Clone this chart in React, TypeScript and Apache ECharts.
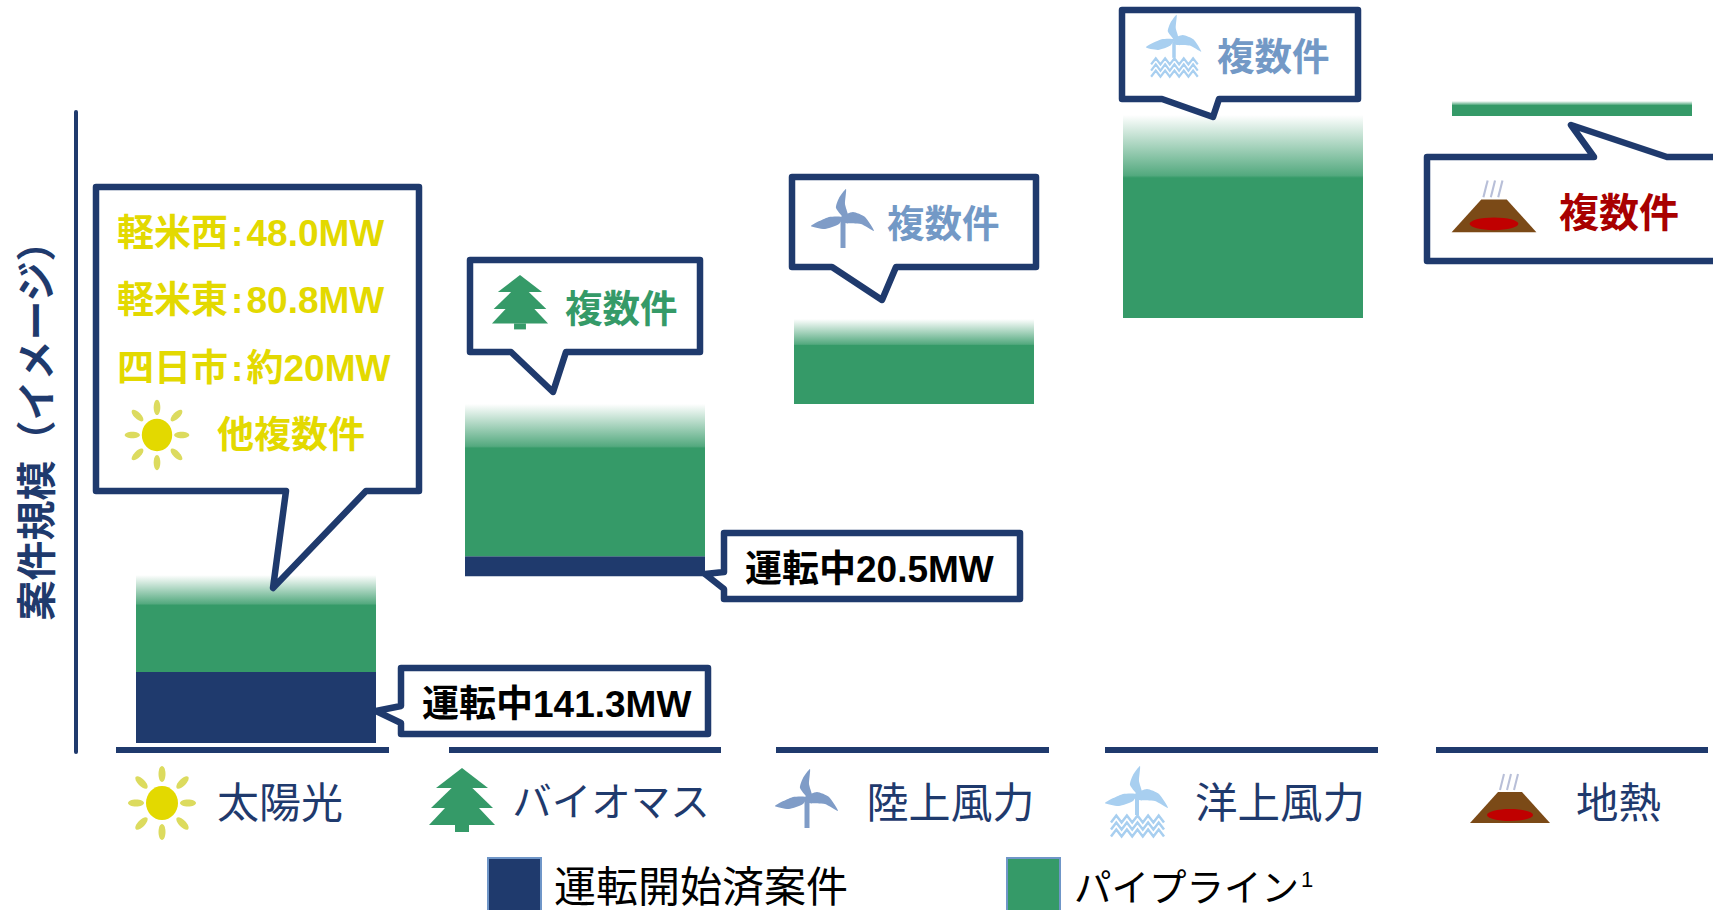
import React, { useEffect, useRef } from "react";
import * as echarts from "echarts";

const categories = ["太陽光", "バイオマス", "陸上風力", "洋上風力", "地熱"];
const legendOperating = "運転開始済案件";
const legendPipeline = "パイプライン";

// The axis is illustrative (イメージ): each group carries its own hidden scale.
const solarOperating = [141.3, null, null, null, null];
const solarPipeline = [193, null, null, null, null];
const biomassOffset = [null, 171, null, null, null];
const biomassOperating = [null, 20.5, null, null, null];
const biomassPipeline = [null, 156, null, null, null];
const windOffset = [null, null, 339, 425, 627];
const windPipeline = [null, null, 85, 203, 15];
const solarAxisMax = 1278;
const biomassAxisMax = 658;
const windAxisMax = 642;

const NAVY = "#1F3A6D";
const GREEN = "#359A68";
const YELLOW = "#E3D900";
const SKY = "#7399C6";
const RED = "#A80000";
const FONT = '"Liberation Sans","Noto Sans CJK JP",sans-serif';

// Share of each pipeline bar that fades out towards its top edge.
const fadeShare = [0.31, 0.29, 0.31, 0.31, 0.27];

const fade = (share: number) =>
  new echarts.graphic.LinearGradient(0, 0, 0, 1, [
    { offset: 0, color: "rgba(53,154,104,0)" },
    { offset: share * 0.96, color: "rgba(53,154,104,0.85)" },
    { offset: share, color: GREEN },
    { offset: 1, color: GREEN },
  ]);

const pipelineData = (values: (number | null)[]) =>
  values.map((value, i) =>
    value === null ? null : { value, itemStyle: { color: fade(fadeShare[i]) } }
  );

const bar = (
  name: string,
  axis: number,
  stack: string,
  data: any[],
  color: string | null
) => ({
  type: "bar",
  name,
  data,
  stack,
  xAxisIndex: axis,
  yAxisIndex: axis,
  barWidth: 240,
  clip: false,
  silent: true,
  itemStyle: color ? { color } : { color: "rgba(0,0,0,0)" },
});

const Z = 10;

const callout = (points: number[][]) => ({
  type: "polygon",
  z: Z,
  shape: { points },
  style: { fill: "#fff", stroke: NAVY, lineWidth: 6.5, lineJoin: "round" },
});

const label = (
  text: string,
  x: number,
  y: number,
  fill: string,
  size = 37.5,
  align = "left"
) => ({
  type: "text",
  z: Z + 1,
  style: {
    text,
    x,
    y,
    fill,
    align,
    verticalAlign: "middle",
    font: `bold ${size}px ${FONT}`,
  },
});

const sun = (x: number, y: number, s = 1) => ({
  type: "group",
  x,
  y,
  scaleX: s,
  scaleY: s,
  z: Z + 1,
  children: [
    ...[0, 45, 90, 135, 180, 225, 270, 315].map((deg) => {
      const r = ((deg * Math.PI) / 180) as number;
      const reach = deg % 180 === 0 ? 26 : 29;
      return {
        type: "ellipse",
        z: Z + 1,
        x: Math.cos(r) * reach,
        y: Math.sin(r) * reach,
        rotation: -r,
        shape: { cx: 0, cy: 0, rx: 8, ry: 3.5 },
        style: { fill: "#DCDB5E" },
      };
    }),
    {
      type: "ellipse",
      z: Z + 2,
      shape: { cx: 0, cy: 0, rx: 16, ry: 17 },
      style: { fill: YELLOW },
    },
  ],
});

const tree = (x: number, y: number, s = 1) => ({
  type: "group",
  x,
  y,
  scaleX: s,
  scaleY: s,
  z: Z + 1,
  children: [
    [[-7, 57], [7, 57], [7, 64], [-7, 64]],
    [[0, 22], [33, 57], [-33, 57]],
    [[0, 10], [31, 40], [-31, 40]],
    [[0, 0], [26, 20], [-26, 20]],
  ].map((points) => ({
    type: "polygon",
    z: Z + 1,
    shape: { points },
    style: { fill: GREEN },
  })),
});

const blades = (fill: string) =>
  [
    [[3, 0], [-7, -12], [-4, -22], [3, -31], [2, -16], [5, -5]],
    [[0, -3], [-14, -3], [-32, 6], [-18, 9], [-4, 4]],
    [[-2, -3], [10, -8], [22, -3], [31, 11], [18, 4], [2, 3]],
  ].map((points) => ({
    type: "polygon",
    z: Z + 1,
    shape: { points, smooth: 0.2 },
    style: { fill },
  }));

const turbine = (x: number, y: number, s = 1) => ({
  type: "group",
  x,
  y,
  scaleX: s,
  scaleY: s,
  z: Z + 1,
  children: [
    {
      type: "rect",
      z: Z + 1,
      shape: { x: -2.5, y: 0, width: 5, height: 28 },
      style: { fill: "#7F9CC7" },
    },
    ...blades("#7F9CC7"),
  ],
});

const waveRow = (row: number) =>
  Array.from({ length: 11 }, (_, i) => [-26 + i * 5.3, 22 + row * 7 + (i % 2 ? -3.5 : 3.5)]);

const offshore = (x: number, y: number, s = 1) => ({
  type: "group",
  x,
  y,
  scaleX: s,
  scaleY: s,
  z: Z + 1,
  children: [
    {
      type: "rect",
      z: Z + 1,
      shape: { x: -2, y: 0, width: 4, height: 18 },
      style: { fill: "#A8CFF0" },
    },
    ...blades("#A8CFF0"),
    ...[0, 1, 2].map((row) => ({
      type: "polyline",
      z: Z + 1,
      shape: { points: waveRow(row) },
      style: { stroke: "#A8CFF0", lineWidth: 2.5, fill: "none" },
    })),
  ],
});

const volcano = (x: number, y: number, s = 1) => ({
  type: "group",
  x,
  y,
  scaleX: s,
  scaleY: s,
  z: Z + 1,
  children: [
    ...[-7, 0, 7].map((dx) => ({
      type: "line",
      z: Z + 1,
      shape: { x1: dx + 1, y1: -10, x2: dx - 3, y2: 6 },
      style: { stroke: "#B8BFD8", lineWidth: 2 },
    })),
    {
      type: "polygon",
      z: Z + 1,
      shape: { points: [[-12, 8], [12, 8], [40, 39], [-40, 39]] },
      style: { fill: "#7B4A17" },
    },
    {
      type: "ellipse",
      z: Z + 2,
      shape: { cx: 0, cy: 31, rx: 23, ry: 6 },
      style: { fill: "#C00000" },
    },
  ],
});

const segments = [
  [116, 389],
  [449, 721],
  [776, 1049],
  [1105, 1378],
  [1436, 1708],
];

const buildGraphics = () => [
  ...segments.map(([from, to]) => ({
    type: "rect",
    z: Z,
    shape: { x: from, y: 747, width: to - from, height: 6 },
    style: { fill: NAVY },
  })),

  callout([[96, 187], [419, 187], [419, 491], [366, 491], [273, 588], [286, 491], [96, 491]]),
  label("軽米西\u200A:\u200A48.0MW", 117, 233, YELLOW, 37),
  label("軽米東\u200A:\u200A80.8MW", 117, 300, YELLOW, 37),
  label("四日市\u200A:\u200A約20MW", 117, 368, YELLOW, 37),
  sun(157, 435, 0.95),
  label("他複数件", 217, 435, YELLOW, 37),

  callout([[470, 260], [700, 260], [700, 352], [566, 352], [553, 392], [511, 352], [470, 352]]),
  tree(520, 275, 0.85),
  label("複数件", 565, 309, GREEN),

  callout([[792, 177], [1036, 177], [1036, 267], [896, 267], [882, 300], [832, 267], [792, 267]]),
  turbine(843, 220),
  label("複数件", 887, 224, SKY),

  callout([[1122, 10], [1358, 10], [1358, 99], [1219, 99], [1213, 117], [1162, 99], [1122, 99]]),
  offshore(1174, 42, 0.88),
  label("複数件", 1217, 57, SKY),

  callout([[1427, 157], [1594, 157], [1571, 125], [1667, 157], [1725, 157], [1725, 261], [1427, 261]]),
  volcano(1494, 191, 1.06),
  label("複数件", 1559, 213, RED, 40),

  callout([[401, 668], [708, 668], [708, 734], [401, 734], [401, 723], [376, 711], [401, 706]]),
  label("運転中141.3MW", 422, 704, "#000", 37),

  callout([[724, 533], [1020, 533], [1020, 599], [724, 599], [724, 589], [705, 574], [724, 572]]),
  label("運転中20.5MW", 745, 569, "#000", 37),

  sun(162, 803),
  tree(462, 768),
  turbine(807, 800),
  offshore(1137, 797),
  volcano(1510, 784),
];

const labelShift = [24, 26, 36.5, 37, 46.5];
const labelSize = [42, 39.5, 42, 42.5, 42.5];

const hiddenX = (gridIndex: number) => ({
  type: "category",
  gridIndex,
  boundaryGap: false,
  data: categories,
  show: false,
});

const hiddenY = (max: number) => ({
  type: "value",
  min: 0,
  max,
  show: false,
});

const buildOption = () => ({
  animation: false,
  backgroundColor: "#fff",
  grid: [
    { left: 256, top: 101, width: 1316, height: 642 },
    { left: 76, top: 112, width: 10, height: 640 },
  ],
  xAxis: [
    {
      type: "category",
      gridIndex: 0,
      boundaryGap: false,
      data: categories,
      axisLine: { show: false },
      axisTick: { show: false },
      axisLabel: {
        interval: 0,
        margin: 39,
        fontFamily: FONT,
        fontSize: 42,
        color: NAVY,
        formatter: (value: string, i: number) => `{c${i}|${value}}`,
        rich: Object.fromEntries(
          labelShift.map((shift, i) => [
            `c${i}`,
            {
              padding: [0, 0, 0, shift * 2],
              fontSize: labelSize[i],
              fontFamily: FONT,
              color: NAVY,
            },
          ])
        ),
      },
    },
    hiddenX(0),
    hiddenX(0),
    { type: "value", gridIndex: 1, min: 0, max: 1, show: false },
  ],
  yAxis: [
    hiddenY(solarAxisMax),
    hiddenY(biomassAxisMax),
    hiddenY(windAxisMax),
    {
      type: "value",
      gridIndex: 1,
      min: 0,
      max: 1,
      name: "案件規模（イメージ）",
      nameLocation: "middle",
      nameRotate: 90,
      nameGap: 19,
      nameTextStyle: {
        fontFamily: FONT,
        fontSize: 40,
        fontWeight: "bold",
        color: NAVY,
        padding: [0, 0, 0, 22],
      },
      axisLine: { show: true, onZero: false, lineStyle: { color: NAVY, width: 4 } },
      axisTick: { show: false },
      axisLabel: { show: false },
      splitLine: { show: false },
    },
  ],
  legend: {
    left: 487,
    top: 857,
    padding: 0,
    itemWidth: 53,
    itemHeight: 54,
    itemGap: 158,
    selectedMode: false,
    data: [
      {
        name: legendOperating,
        icon: "rect",
        itemStyle: { color: NAVY, borderColor: "#6F96C8", borderWidth: 2 },
      },
      {
        name: legendPipeline,
        icon: "rect",
        itemStyle: { color: GREEN, borderColor: "#6F96C8", borderWidth: 2 },
      },
    ],
    formatter: (name: string) =>
      name === legendPipeline ? `{pipe|${name}}{sup|1}` : `{lead|${name}}`,
    textStyle: {
      fontFamily: FONT,
      color: "#000",
      rich: {
        lead: { fontSize: 42, padding: [4, 0, 0, 8], fontFamily: FONT, color: "#000" },
        pipe: { fontSize: 37.5, padding: [6, 0, 0, 9], fontFamily: FONT, color: "#000" },
        sup: { fontSize: 22, padding: [0, 0, 12, 2], fontFamily: FONT, color: "#000" },
      },
    },
  },
  series: [
    bar(legendOperating, 0, "solar", solarOperating, NAVY),
    bar(legendPipeline, 0, "solar", pipelineData(solarPipeline), GREEN),
    bar("offset-biomass", 1, "biomass", biomassOffset, null),
    bar(legendOperating, 1, "biomass", biomassOperating, NAVY),
    bar(legendPipeline, 1, "biomass", pipelineData(biomassPipeline), GREEN),
    bar("offset-wind", 2, "wind", windOffset, null),
    bar(legendPipeline, 2, "wind", pipelineData(windPipeline), GREEN),
  ],
  graphic: { elements: buildGraphics() },
});

export default function App() {
  const ref = useRef<HTMLDivElement>(null);

  useEffect(() => {
    document.documentElement.style.overflow = "hidden";
    const chart = echarts.init(ref.current!, undefined, { renderer: "svg" });
    chart.setOption(buildOption() as any);
    return () => chart.dispose();
  }, []);

  return (
    <div
      ref={ref}
      style={{ position: "fixed", left: 0, top: 0, width: 1713, height: 910 }}
    />
  );
}
